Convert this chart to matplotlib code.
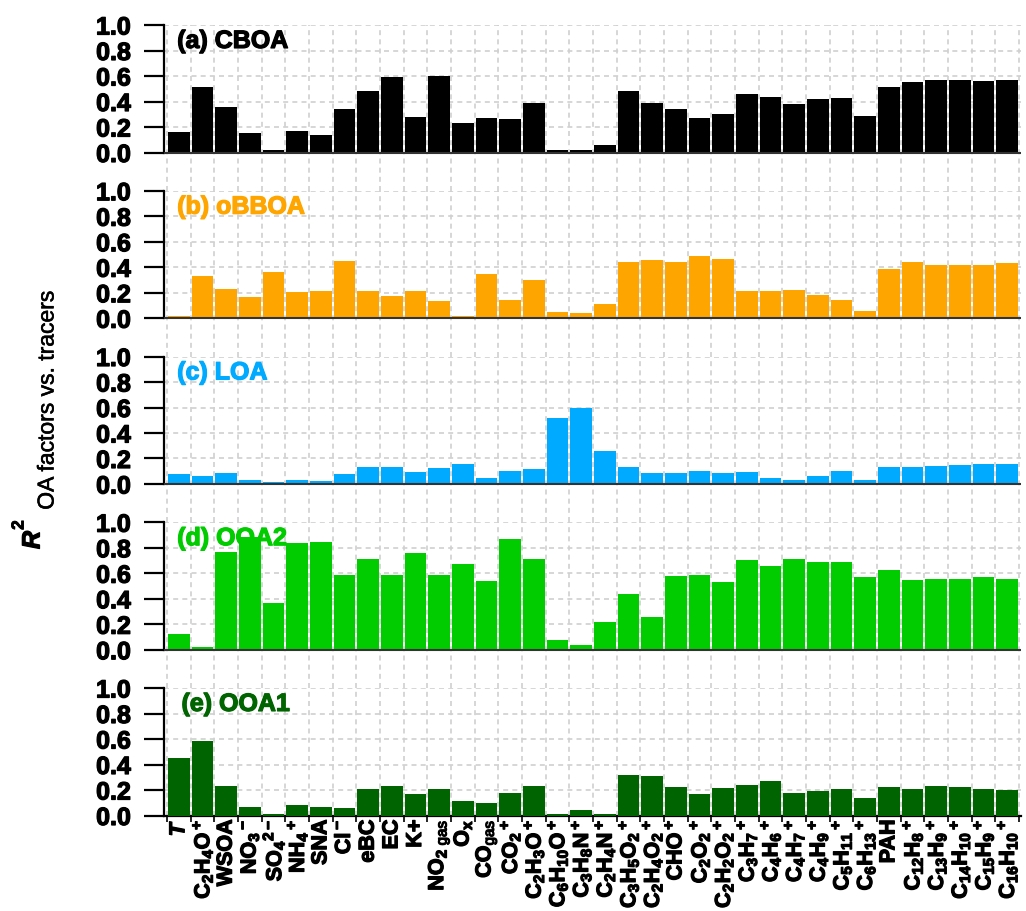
import matplotlib
matplotlib.use("Agg")
import matplotlib.pyplot as plt
import matplotlib.patheffects as pe
import numpy as np

plt.rcParams['mathtext.fontset'] = 'custom'
plt.rcParams['mathtext.rm'] = 'Liberation Sans:bold'
plt.rcParams['mathtext.bf'] = 'Liberation Sans:bold'
plt.rcParams['mathtext.it'] = 'Liberation Sans:italic:bold'
plt.rcParams['mathtext.sf'] = 'Liberation Sans'

# Tracers (x categories)
tracers = [r'$T$', r'C$_2$H$_4$O$^+$', 'WSOA', r'NO$_3$$^-$', r'SO$_4$$^{2-}$',
           r'NH$_4$$^+$', 'SNA', r'Cl$^-$', 'eBC', 'EC', 'K+',
           r'NO$_{2\ \mathsf{gas}}$', r'O$_\mathrm{x}$', r'CO$_{\mathsf{gas}}$',
           r'CO$_2$$^+$', r'C$_2$H$_3$O$^+$', r'C$_6$H$_{10}$O$^+$',
           r'C$_3$H$_8$N$^+$', r'C$_2$H$_4$N$^+$', r'C$_3$H$_5$O$_2$$^+$',
           r'C$_2$H$_4$O$_2$$^+$', r'CHO$^+$', r'C$_2$O$_2$$^+$',
           r'C$_2$H$_2$O$_2$$^+$', r'C$_3$H$_7$$^+$', r'C$_4$H$_6$$^+$',
           r'C$_4$H$_7$$^+$', r'C$_4$H$_9$$^+$', r'C$_5$H$_{11}$$^+$',
           r'C$_6$H$_{13}$$^+$', 'PAH', r'C$_{12}$H$_8$$^+$', r'C$_{13}$H$_9$$^+$',
           r'C$_{14}$H$_{10}$$^+$', r'C$_{15}$H$_9$$^+$', r'C$_{16}$H$_{10}$$^+$']

# R^2 of each OA factor against the tracers
r2_cboa = [0.16, 0.515, 0.36, 0.15, 0.02, 0.17, 0.14, 0.34, 0.485, 0.59, 0.28, 0.60,
           0.23, 0.27, 0.265, 0.39, 0.02, 0.02, 0.06, 0.485, 0.39, 0.34, 0.27, 0.30,
           0.455, 0.435, 0.38, 0.42, 0.43, 0.29, 0.51, 0.55, 0.566, 0.571, 0.561, 0.569]
r2_obboa = [0.02, 0.33, 0.23, 0.165, 0.36, 0.205, 0.21, 0.45, 0.215, 0.175, 0.215, 0.135,
            0.015, 0.35, 0.14, 0.30, 0.05, 0.04, 0.11, 0.44, 0.455, 0.44, 0.49, 0.465,
            0.21, 0.215, 0.225, 0.18, 0.145, 0.055, 0.385, 0.445, 0.415, 0.42, 0.415, 0.43]
r2_loa = [0.075, 0.06, 0.09, 0.035, 0.012, 0.035, 0.027, 0.075, 0.137, 0.135, 0.095, 0.127,
          0.158, 0.047, 0.105, 0.115, 0.52, 0.60, 0.255, 0.13, 0.085, 0.085, 0.10, 0.085,
          0.095, 0.05, 0.035, 0.065, 0.10, 0.035, 0.13, 0.13, 0.145, 0.15, 0.16, 0.155]
r2_ooa2 = [0.12, 0.02, 0.77, 0.885, 0.365, 0.84, 0.845, 0.585, 0.71, 0.585, 0.76, 0.59,
           0.67, 0.54, 0.865, 0.715, 0.08, 0.035, 0.215, 0.44, 0.26, 0.58, 0.585, 0.53,
           0.705, 0.655, 0.71, 0.685, 0.69, 0.57, 0.625, 0.55, 0.555, 0.555, 0.57, 0.555]
r2_ooa1 = [0.45, 0.586, 0.228, 0.063, 0.013, 0.084, 0.066, 0.058, 0.21, 0.228, 0.168, 0.21,
           0.11, 0.10, 0.18, 0.235, 0.015, 0.04, 0.015, 0.32, 0.31, 0.22, 0.17, 0.215,
           0.24, 0.27, 0.18, 0.19, 0.21, 0.135, 0.225, 0.21, 0.235, 0.225, 0.21, 0.20]

factor_names = ['(a) CBOA', '(b) oBBOA', '(c) LOA', '(d) OOA2', '(e) OOA1']
factor_values = [r2_cboa, r2_obboa, r2_loa, r2_ooa2, r2_ooa1]
factor_colors = ['#000000', '#FFA500', '#00AAFF', '#00CC00', '#006400']


def heavy(color='black', lw=0.9):
    return [pe.withStroke(linewidth=lw, foreground=color)]


W, H = 1026, 911
fig = plt.figure(figsize=(W / 100, H / 100), dpi=100)

n = len(tracers)
x = np.arange(n)
left_px, right_px = 163.5, 1021.0
unit_px = 127.5
top0 = 25.0
step = 1.3 * unit_px

grid_kw = dict(color='#d0d0d0', linestyle=(0, (3, 2.5)), linewidth=1.2)
bold_sans = dict(fontfamily='Liberation Sans', fontweight='bold')

for i, (name, vals, col) in enumerate(zip(factor_names, factor_values, factor_colors)):
    last = (i == len(factor_names) - 1)
    top = top0 + i * step
    h = unit_px if last else step
    ax = fig.add_axes([left_px / W, 1 - (top + h) / H, (right_px - left_px) / W, h / H])
    ax.set_axisbelow(True)
    ax.bar(x, vals, width=0.92, color=col, zorder=3)
    ax.set_xlim(-0.5 - (167 - left_px) / 23.667, 35.5 + (right_px - 1019) / 23.667)
    ax.set_ylim(0 if last else -0.3, 1.0)

    ax.set_yticks([0, 0.2, 0.4, 0.6, 0.8, 1.0])
    ax.set_yticklabels(['0.0', '0.2', '0.4', '0.6', '0.8', '1.0'], fontsize=18, **bold_sans)
    for t in ax.get_yticklabels():
        t.set_path_effects(heavy())
    ax.tick_params(axis='y', length=14.5, width=1.6, pad=9, color='black')
    ax.spines['left'].set_linewidth(1.6)
    ax.spines['left'].set_bounds(0, 1)
    ax.spines['top'].set_visible(False)
    ax.spines['right'].set_visible(False)

    ax.set_xticks(np.arange(n + 1) - 0.5)
    ax.set_xticks(x, minor=True)
    ax.grid(True, which='major', axis='both', **grid_kw)

    if last:
        ax.spines['bottom'].set_linewidth(1.6)
        ax.tick_params(axis='x', which='major', length=4, width=1.2, labelbottom=False)
        ax.tick_params(axis='x', which='minor', length=0, pad=3, labelsize=15.5,
                       labelrotation=90)
        ax.set_xticklabels(tracers, minor=True, rotation=90, fontsize=15.5, **bold_sans)
        for t in ax.get_xticklabels(minor=True):
            t.set_path_effects(heavy())
    else:
        ax.spines['bottom'].set_visible(False)
        ax.tick_params(axis='x', which='both', length=0, labelbottom=False)
        ax.axhline(0, color='#333333', linewidth=1.5, zorder=4)

    ax.text(0.021 if last else 0.016, 0.875, name, transform=ax.get_yaxis_transform(),
            color=col, fontsize=18, ha='left', va='center', zorder=5,
            path_effects=heavy(col), **bold_sans)

# Y-axis label: R^2 with a long subscript
fig.text(32.5 / W, 1 - 540 / H, 'R', rotation=90, ha='center', va='center',
         fontfamily='Liberation Sans', fontweight='bold', fontstyle='italic', fontsize=18,
         path_effects=heavy())
fig.text(19 / W, 1 - 525 / H, '2', rotation=90, ha='center', va='center',
         fontsize=12.5, path_effects=heavy(lw=0.6), **bold_sans)
fig.text(47 / W, 1 - 400 / H, 'OA factors vs. tracers', rotation=90, ha='center',
         va='center', fontfamily='Liberation Sans', fontsize=16.5,
         path_effects=heavy(lw=0.4))

fig.savefig('out.png', dpi=100)
